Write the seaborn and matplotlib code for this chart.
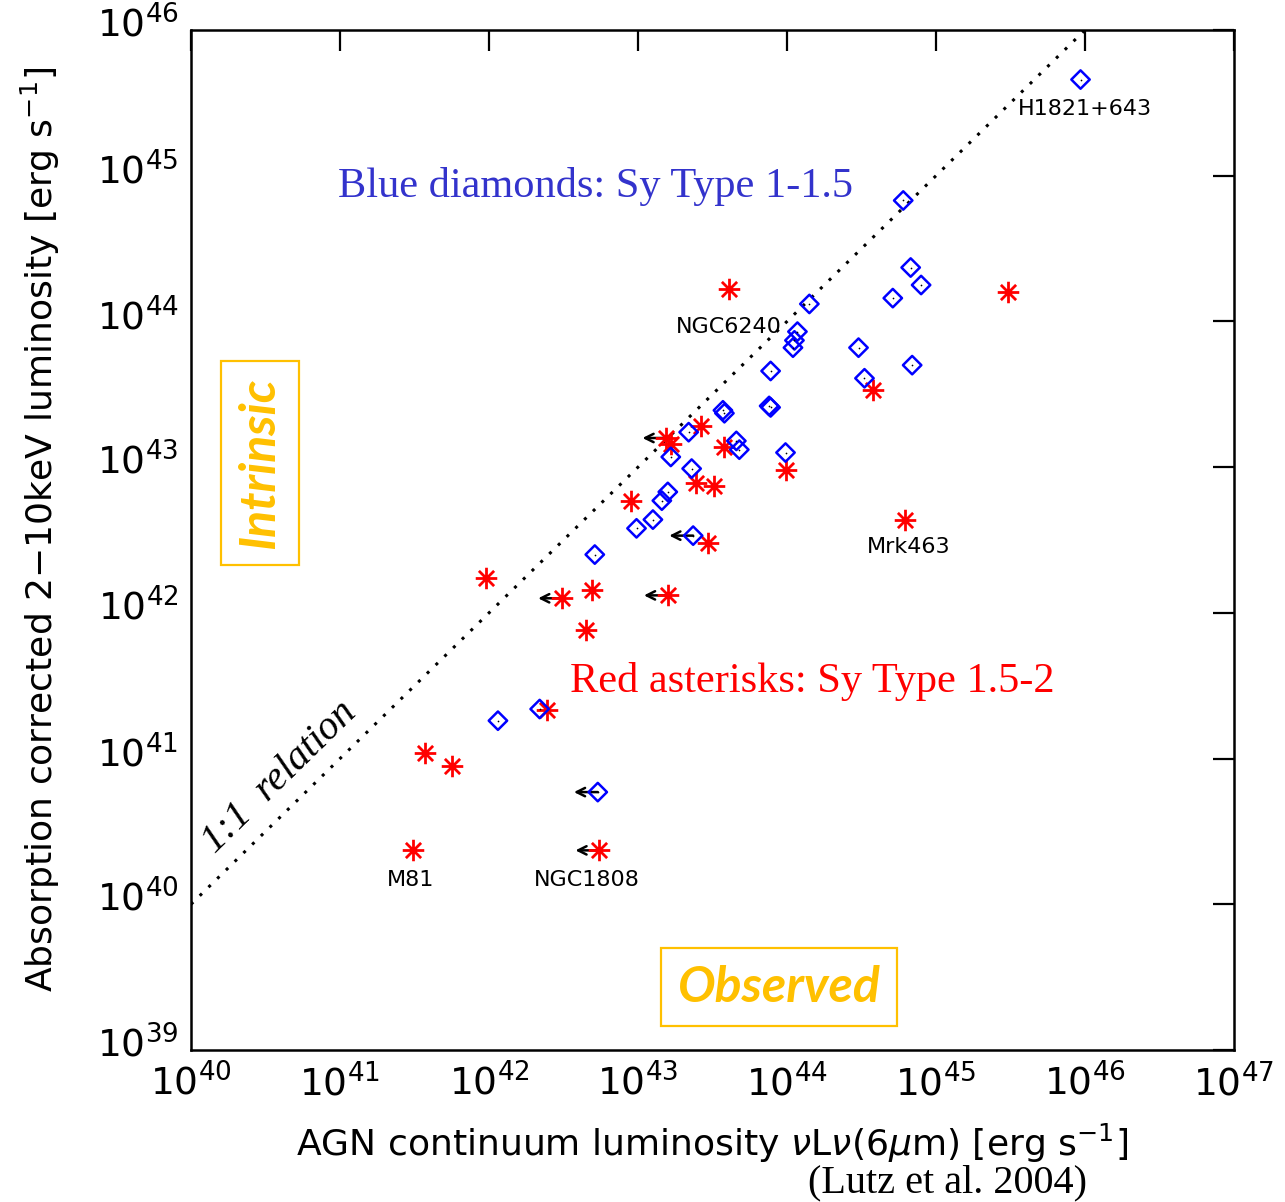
import warnings
import numpy as np
import pandas as pd
import matplotlib
matplotlib.use("Agg")
import matplotlib.pyplot as plt
from matplotlib.path import Path
from matplotlib.ticker import FixedLocator, FuncFormatter, NullLocator
from matplotlib.transforms import ScaledTranslation
from matplotlib import font_manager
import seaborn as sns

warnings.filterwarnings("ignore")

# ---------------- data (log10 luminosities) ----------------
# Blue diamonds: Seyfert type 1-1.5
sy1_log_l6 = [45.97, 44.78, 44.83, 44.90, 44.71, 44.15, 44.07, 44.05, 44.04, 44.48,
              44.84, 43.89, 44.52, 43.88, 43.89, 43.57, 43.58, 43.66, 43.68, 43.34,
              43.22, 43.99, 43.36, 43.20, 43.16, 43.10, 42.99, 43.37, 42.71, 42.06,
              42.34, 42.73]
sy1_log_lx = [45.66, 44.83, 44.37, 44.25, 44.16, 44.12, 43.93, 43.87, 43.82, 43.82,
              43.70, 43.66, 43.61, 43.42, 43.41, 43.39, 43.37, 43.18, 43.12, 43.24,
              43.07, 43.10, 42.99, 42.83, 42.77, 42.64, 42.58, 42.53, 42.40, 41.26,
              41.34, 40.77]
sy1_upper_limit = [False] * 27 + [True, False, False, False, True]

# Red asterisks: Seyfert type 1.5-2
sy2_log_l6 = [45.48, 43.61, 44.58, 43.42, 43.19, 43.22, 43.58, 43.99, 43.39, 43.51,
              42.95, 43.47, 44.79, 41.98, 42.69, 42.49, 43.20, 42.65, 42.39, 41.57,
              41.75, 41.49, 42.74]
sy2_log_lx = [44.20, 44.22, 43.53, 43.28, 43.20, 43.16, 43.14, 42.98, 42.89, 42.87,
              42.77, 42.48, 42.64, 42.24, 42.16, 42.10, 42.12, 41.88, 41.33, 41.04,
              40.95, 40.37, 40.37]
sy2_upper_limit = [False, False, False, False, True, False, False, False, False, False,
                   False, False, False, False, False, True, True, False, False, False,
                   False, False, True]

# Named objects: (name, group, index in group)
named_objects = ["H1821+643", "NGC6240", "Mrk463", "M81", "NGC1808"]
named_group = ["sy1", "sy2", "sy2", "sy2", "sy2"]
named_index = [0, 1, 12, 21, 22]

x_decades = list(range(40, 48))
y_decades = list(range(39, 47))
one_to_one = [40, 46]

# ---------------- style ----------------
sns.set_style("white")


def has_font(name):
    try:
        font_manager.findfont(font_manager.FontProperties(family=name),
                              fallback_to_default=False)
        return True
    except Exception:
        return False


NARROW = has_font("Liberation Sans Narrow")
if NARROW:
    sans = ["Liberation Sans Narrow", "DejaVu Sans"]
    tick_fs, label_fs, name_fs = 31, 31, 19
else:
    sans = ["DejaVu Sans"]
    tick_fs, label_fs, name_fs = 27, 26, 16
plt.rcParams["font.family"] = sans
plt.rcParams["mathtext.fontset"] = "dejavusans"
plt.rcParams["text.color"] = "black"
plt.rcParams["axes.labelcolor"] = "black"

serif = ["Liberation Serif", "DejaVu Serif"]
bold_it = ["Lato", "Open Sans", "DejaVu Sans"]
ORANGE = "#FFC000"

fig = plt.figure(figsize=(12.85, 12.02), dpi=100)
ax = fig.add_axes([191 / 1285, 1 - 1050 / 1202, (1234 - 191) / 1285, (1050 - 30) / 1202])
ax.set_xscale("log")
ax.set_yscale("log")

df1 = pd.DataFrame({"L6": np.power(10.0, sy1_log_l6), "LX": np.power(10.0, sy1_log_lx)})
df2 = pd.DataFrame({"L6": np.power(10.0, sy2_log_l6), "LX": np.power(10.0, sy2_log_lx)})

# 1:1 relation
ax.plot(np.power(10.0, one_to_one), np.power(10.0, one_to_one), color="black",
        lw=2.2, linestyle=(0, (1, 3.0)), zorder=1)

# asterisk marker: 4 line segments (8 arms)
ang = np.deg2rad([0, 45, 90, 135])
verts, codes = [], []
for a in ang:
    verts += [(-0.5 * np.cos(a), -0.5 * np.sin(a)), (0.5 * np.cos(a), 0.5 * np.sin(a))]
    codes += [Path.MOVETO, Path.LINETO]
asterisk = Path(verts, codes)

sns.scatterplot(data=df2, x="L6", y="LX", marker=asterisk, s=240, color="#FF0000",
                edgecolor="#FF0000", linewidth=2.0, ax=ax, zorder=3, legend=False)
sns.scatterplot(data=df1, x="L6", y="LX", marker="D", s=88, facecolor="none",
                edgecolor="#0000FF", color="#0000FF", linewidth=1.8, ax=ax, zorder=4,
                legend=False)
sns.scatterplot(data=df1, x="L6", y="LX", marker="o", s=1.5, color="black",
                edgecolor="black", linewidth=0, ax=ax, zorder=5, legend=False)

# upper-limit arrows
for d, lim in ((df1, sy1_upper_limit), (df2, sy2_upper_limit)):
    for (xv, yv), flag in zip(d[["L6", "LX"]].values, lim):
        if flag:
            ax.annotate("", xy=(xv * 10 ** -0.16, yv), xytext=(xv, yv),
                        arrowprops=dict(arrowstyle="->", color="black", lw=1.8,
                                        mutation_scale=15, shrinkA=0, shrinkB=0),
                        zorder=2)

# object names
offsets = {"H1821+643": (3, -21), "NGC6240": (0, -27), "Mrk463": (3, -20),
           "M81": (-2, -21), "NGC1808": (-9, -21)}
for name, grp, idx in zip(named_objects, named_group, named_index):
    d = df1 if grp == "sy1" else df2
    xv, yv = d["L6"].iloc[idx], d["LX"].iloc[idx]
    ax.annotate(name, xy=(xv, yv), xytext=offsets[name], textcoords="offset points",
                ha="center", va="center", fontsize=name_fs, color="black",
                family=sans, zorder=6)

# axes & ticks
ax.set_xlim(10.0 ** x_decades[0], 10.0 ** x_decades[-1])
ax.set_ylim(10.0 ** y_decades[0], 10.0 ** y_decades[-1])
ax.xaxis.set_major_locator(FixedLocator([10.0 ** d for d in x_decades]))
ax.yaxis.set_major_locator(FixedLocator([10.0 ** d for d in y_decades]))
ax.xaxis.set_minor_locator(NullLocator())
ax.yaxis.set_minor_locator(NullLocator())
fmt = FuncFormatter(lambda v, p: r"$\mathregular{10^{%d}}$" % int(round(np.log10(v))))
ax.xaxis.set_major_formatter(fmt)
ax.yaxis.set_major_formatter(fmt)
ax.tick_params(which="major", direction="in", length=15, width=1.6, top=True,
               right=True, labelsize=tick_fs, colors="black")
ax.tick_params(axis="x", pad=10)
ax.tick_params(axis="y", pad=9)
for sp in ax.spines.values():
    sp.set_linewidth(1.8)
    sp.set_color("black")

# y tick labels sit slightly above their ticks, as in the reference
shift_up = ScaledTranslation(0, 6 / 72, fig.dpi_scale_trans)
for lbl in ax.get_yticklabels():
    lbl.set_transform(lbl.get_transform() + shift_up)

ax.set_xlabel(r"AGN continuum luminosity $\nu$L$\nu$(6$\mu$m) [erg s$^{\mathregular{-1}}$]",
              fontsize=label_fs, color="black")
ax.set_ylabel(r"Absorption corrected 2$-$10keV luminosity [erg s$^{\mathregular{-1}}$]",
              fontsize=label_fs, color="black")
ax.xaxis.set_label_coords(0.5, -0.07)
ax.yaxis.set_label_coords(-0.124, 0.51)

# annotations
ax.text(595 / 1285, 1 - 187 / 1202, "Blue diamonds: Sy Type 1-1.5", transform=fig.transFigure,
        ha="center", va="center", fontsize=30.5, color="#3333CC", family=serif)
ax.text(812 / 1285, 1 - 681 / 1202, "Red asterisks: Sy Type 1.5-2", transform=fig.transFigure,
        ha="center", va="center", fontsize=30.5, color="#FF0000", family=serif)
ax.text(280 / 1285, 1 - 777 / 1202, "1:1  relation", transform=fig.transFigure,
        ha="center", va="center", fontsize=29, style="italic", rotation=44.4,
        color="black", family=serif)
box = dict(boxstyle="square,pad=0.33", facecolor="white", edgecolor=ORANGE, linewidth=1.6)
ax.text(260 / 1285, 1 - 463 / 1202, "Intrinsic", transform=fig.transFigure, rotation=90,
        ha="center", va="center", fontsize=36, fontweight="bold", style="italic",
        color=ORANGE, family=bold_it, bbox=box)
ax.text(779 / 1285, 1 - 987 / 1202, "Observed", transform=fig.transFigure,
        ha="center", va="center", fontsize=36, fontweight="bold", style="italic",
        color=ORANGE, family=bold_it, bbox=box)
fig.text(948 / 1285, 1 - 1183 / 1202, "(Lutz et al. 2004)", ha="center", va="center",
         fontsize=29, color="black", family=serif)

fig.savefig("out.png", dpi=100, facecolor="white")
